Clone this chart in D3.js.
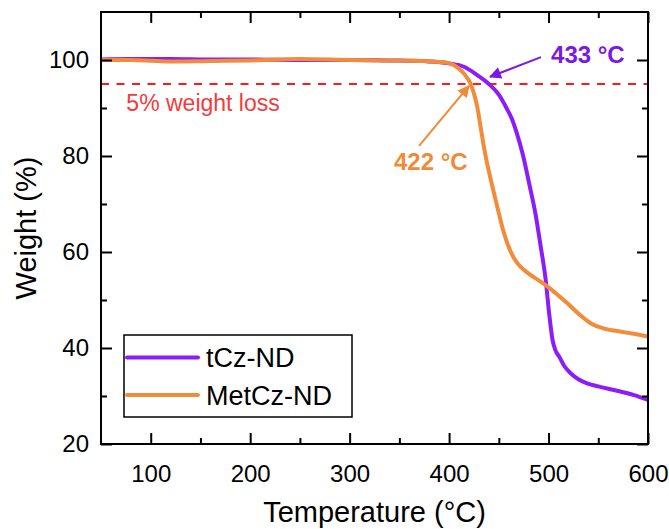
<!DOCTYPE html>
<html>
<head>
<meta charset="utf-8">
<script src="https://cdn.jsdelivr.net/npm/d3@7"></script>
<style>
  body { margin: 0; background: #fff; }
  text { font-family: "Liberation Sans", Arial, sans-serif; }
</style>
</head>
<body>
<div id="container"></div>
<script>
/* data */
var tczTemp = [50, 80, 120, 160, 200, 250, 300, 340, 380, 400, 415, 428, 440, 450, 458, 463, 468, 474, 481, 487, 492, 497, 500.6, 504, 507, 511, 516, 522.5, 530, 539.4, 550, 566, 586, 600]
var tczWeight = [100.1, 100.2, 100.2, 100.1, 100.1, 100.0, 100.0, 99.9, 99.7, 99.3, 98.6, 96.9, 95.0, 92.8, 89.9, 87.8, 84.8, 80.4, 73.8, 67.8, 61.3, 54.4, 47.2, 41.7, 39.5, 38.1, 36.2, 34.7, 33.5, 32.6, 32.0, 31.25, 30.2, 29.2]

var metTemp = [50, 80, 120, 160, 200, 250, 300, 340, 370, 390, 398.5, 405, 411.4, 416, 421.5, 425, 428.3, 431.5, 435, 438.5, 442, 446, 450, 454, 458.6, 465, 472, 480, 490, 499, 509, 519, 531, 542.7, 555, 573, 587, 600]
var metWeight = [100.0, 100.0, 99.7, 99.8, 99.9, 100.2, 100.0, 99.9, 99.8, 99.6, 99.4, 98.9, 97.9, 96.9, 95.1, 93.0, 90.3, 86.3, 81.9, 78.2, 75.0, 71.5, 68.1, 64.8, 61.8, 58.8, 56.9, 55.5, 54.1, 52.8, 51.1, 49.3, 47.0, 45.1, 44.1, 43.4, 42.9, 42.4]

var seriesNames = ["tCz-ND", "MetCz-ND"]
var seriesColors = ["#8c1cf8", "#f28c3a"]

var xTicks = [100, 200, 300, 400, 500, 600]
var xMinor = [150, 250, 350, 450, 550]
var yTicks = [20, 40, 60, 80, 100]
var yMinor = [30, 50, 70, 90]

var lossLevel = 95
/* onset annotations, in data units (temperature, weight) */
var onsetLabels = ["433 °C", "422 °C"]
var onsetText = [[502.5, 99.4], [344.6, 77.1]]
var onsetArrowFrom = [[492.4, 100.6], [369.8, 82.1]]
var onsetArrowTo = [[441.2, 96.5], [420.0, 94.6]]
var onsetColors = ["#7a18e6", "#f08a36"]

/* dimensions */
var W = 669, H = 529
var margin = { top: 12, left: 101, right: 21, bottom: 85 }
var width = W - margin.left - margin.right,
    height = H - margin.top - margin.bottom

var x = d3.scaleLinear().domain([50, 600]).range([0, width])
var y = d3.scaleLinear().domain([20, 110]).range([height, 0])

var svg = d3.select("#container").append("svg")
  .attr("width", W).attr("height", H)

var g = svg.append("g")
  .attr("transform", "translate(" + margin.left + "," + margin.top + ")")

/* curves */
var line = d3.line()
  .x(function(d) { return x(d[0]) })
  .y(function(d) { return y(d[1]) })
  .curve(d3.curveMonotoneX)

var series = [d3.zip(tczTemp, tczWeight), d3.zip(metTemp, metWeight)]

/* 5% loss line */
g.append("line")
  .attr("x1", 0).attr("x2", width)
  .attr("y1", y(lossLevel)).attr("y2", y(lossLevel))
  .attr("stroke", "#ff1a1a").attr("stroke-width", 2)
  .attr("stroke-dasharray", "8,7.5")

g.append("text")
  .attr("x", x(75.5)).attr("y", y(lossLevel) + 27)
  .attr("fill", "#f33b3b").attr("font-size", 23)
  .text("5% weight loss")

g.selectAll(".series")
  .data(series)
  .enter().append("path")
    .attr("class", "series")
    .attr("d", line)
    .attr("fill", "none")
    .attr("stroke", function(d, i) { return seriesColors[i] })
    .attr("stroke-width", 4)
    .attr("stroke-linejoin", "round")

/* axes: ticks point inward on all four sides */
function styleAxis(sel) {
  sel.select(".domain").remove()
  sel.selectAll("line").attr("stroke", "#000").attr("stroke-width", 2)
  sel.selectAll("text").attr("font-size", 24).attr("fill", "#000")
    .attr("font-family", "'Liberation Sans', Arial, sans-serif")
}

g.append("g").attr("transform", "translate(0," + height + ")")
  .call(d3.axisBottom(x).tickValues(xTicks).tickSize(-11).tickPadding(21).tickFormat(d3.format("d")))
  .call(styleAxis)
g.append("g").attr("transform", "translate(0," + height + ")")
  .call(d3.axisBottom(x).tickValues(xMinor).tickSize(-6).tickFormat(""))
  .call(styleAxis)
g.append("g")
  .call(d3.axisTop(x).tickValues(xTicks).tickSize(-11).tickFormat(""))
  .call(styleAxis)
g.append("g")
  .call(d3.axisTop(x).tickValues(xMinor).tickSize(-6).tickFormat(""))
  .call(styleAxis)

g.append("g")
  .call(d3.axisLeft(y).tickValues(yTicks).tickSize(-11).tickPadding(12).tickFormat(d3.format("d")))
  .call(styleAxis)
g.append("g")
  .call(d3.axisLeft(y).tickValues(yMinor).tickSize(-6).tickFormat(""))
  .call(styleAxis)
g.append("g").attr("transform", "translate(" + width + ",0)")
  .call(d3.axisRight(y).tickValues(yTicks).tickSize(-11).tickFormat(""))
  .call(styleAxis)
g.append("g").attr("transform", "translate(" + width + ",0)")
  .call(d3.axisRight(y).tickValues(yMinor).tickSize(-6).tickFormat(""))
  .call(styleAxis)

/* frame */
g.append("rect")
  .attr("width", width).attr("height", height)
  .attr("fill", "none").attr("stroke", "#000").attr("stroke-width", 2)

/* axis titles */
svg.append("text")
  .attr("x", margin.left + width / 2).attr("y", 522)
  .attr("text-anchor", "middle").attr("font-size", 29)
  .text("Temperature (°C)")

svg.append("text")
  .attr("transform", "translate(36," + (margin.top + height / 2) + ") rotate(-90)")
  .attr("text-anchor", "middle").attr("font-size", 29)
  .text("Weight (%)")

/* onset annotations */
var defs = svg.append("defs")
onsetColors.forEach(function(c, i) {
  defs.append("marker")
    .attr("id", "arrow" + i)
    .attr("viewBox", "0 0 10 10").attr("refX", 9).attr("refY", 5)
    .attr("markerWidth", 7).attr("markerHeight", 6)
    .attr("markerUnits", "strokeWidth")
    .attr("orient", "auto")
    .append("path").attr("d", "M0,0 L10,5 L0,10 Z").attr("fill", c)
})

onsetLabels.forEach(function(lbl, i) {
  g.append("line")
    .attr("x1", x(onsetArrowFrom[i][0])).attr("y1", y(onsetArrowFrom[i][1]))
    .attr("x2", x(onsetArrowTo[i][0])).attr("y2", y(onsetArrowTo[i][1]))
    .attr("stroke", onsetColors[i]).attr("stroke-width", 2)
    .attr("marker-end", "url(#arrow" + i + ")")
  g.append("text")
    .attr("x", x(onsetText[i][0])).attr("y", y(onsetText[i][1]))
    .attr("fill", onsetColors[i]).attr("font-size", 24).attr("font-weight", "bold")
    .text(lbl)
})

/* legend */
var legend = g.append("g").attr("transform", "translate(" + (124 - margin.left) + "," + (335 - margin.top) + ")")
legend.append("rect")
  .attr("width", 228).attr("height", 82)
  .attr("fill", "#fff").attr("stroke", "#000").attr("stroke-width", 1.5)
seriesNames.forEach(function(name, i) {
  legend.append("line")
    .attr("x1", 3).attr("x2", 74)
    .attr("y1", 22.5 + i * 37.5).attr("y2", 22.5 + i * 37.5)
    .attr("stroke", seriesColors[i]).attr("stroke-width", 4).attr("stroke-linecap", "round")
  legend.append("text")
    .attr("x", 82).attr("y", 32 + i * 38)
    .attr("font-size", 27)
    .text(name)
})
</script>
</body>
</html>
